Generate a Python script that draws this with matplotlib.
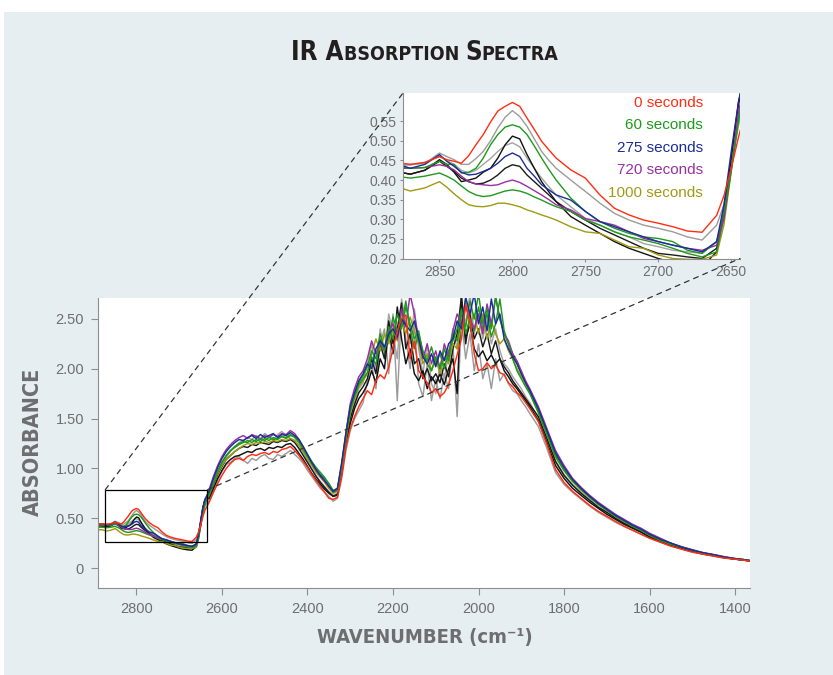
import numpy as np
import matplotlib
matplotlib.use("Agg")
import matplotlib.pyplot as plt
from matplotlib import font_manager
from matplotlib.patches import Rectangle, ConnectionPatch

# wavenumber sampling (cm-1), high to low
wn_edge = [2890, 2880, 2870, 2860, 2850, 2845, 2840, 2835, 2830, 2825, 2820, 2815, 2810, 2805, 2800,
           2795, 2790, 2785, 2780, 2775, 2770, 2760, 2750, 2740, 2730, 2720, 2710, 2700, 2690, 2680,
           2670, 2660, 2655, 2650, 2645, 2640]
wn_plateau = list(range(2630, 2300, -10))
wn_band = list(range(2300, 1870, -10))
wn_tail = [1860, 1840, 1820, 1800, 1780, 1760, 1740, 1720, 1700, 1680, 1660, 1640, 1620, 1600,
           1575, 1550, 1525, 1500, 1475, 1450, 1425, 1400, 1380, 1365]
wavenumber = np.array(wn_edge + wn_plateau + wn_band + wn_tail)

# absorbance, one list per spectrum
abs_0s = [0.440, 0.445, 0.440, 0.445, 0.460, 0.452, 0.448, 0.443, 0.462, 0.490, 0.516, 0.548, 0.576, 0.588,
          0.598, 0.588, 0.558, 0.529, 0.499, 0.477, 0.456, 0.426, 0.405, 0.362, 0.328, 0.311, 0.298, 0.290,
          0.281, 0.270, 0.267, 0.310, 0.360, 0.430, 0.510, 0.580,
          0.66, 0.76, 0.85, 0.93, 1.00, 1.05, 1.09, 1.10, 1.08, 1.12, 1.14, 1.13, 1.15, 1.16, 1.14, 1.17, 1.16,
          1.19, 1.20, 1.22, 1.18, 1.13, 1.07, 1.01, 0.94, 0.88, 0.82, 0.76, 0.70, 0.69, 0.71, 0.92, 1.22,
          1.40, 1.52, 1.62, 1.70, 1.78, 1.74, 1.88, 1.94, 1.90, 2.02, 2.20, 2.38, 2.50, 2.54, 2.10, 2.28, 1.98,
          1.92, 1.86, 1.76, 1.80, 1.72, 1.76, 1.84, 1.98, 2.14, 2.30, 2.64, 2.48, 2.15, 1.98, 2.00, 2.06, 2.00,
          2.04, 1.96, 1.94, 1.86, 1.82, 1.76, 1.72, 1.66, 1.60,
          1.47, 1.24, 0.99, 0.86, 0.77, 0.70, 0.63, 0.57, 0.52, 0.47, 0.42, 0.38, 0.34, 0.30, 0.26, 0.22,
          0.19, 0.16, 0.14, 0.12, 0.10, 0.09, 0.08, 0.07]
abs_gray_a = [0.440, 0.440, 0.440, 0.442, 0.469, 0.460, 0.452, 0.440, 0.440, 0.455, 0.473, 0.500, 0.533, 0.560,
              0.577, 0.562, 0.537, 0.505, 0.473, 0.450, 0.430, 0.400, 0.371, 0.341, 0.315, 0.298, 0.285, 0.277,
              0.268, 0.255, 0.247, 0.285, 0.337, 0.430, 0.540, 0.620,
              0.68, 0.78, 0.88, 0.97, 1.04, 1.06, 1.10, 1.12, 1.08, 1.05, 1.10, 1.08, 1.12, 1.14, 1.10, 1.09, 1.14,
              1.12, 1.15, 1.18, 1.14, 1.10, 1.05, 0.98, 0.92, 0.86, 0.80, 0.76, 0.72, 0.67, 0.70, 0.90, 1.18,
              1.38, 1.50, 1.58, 1.66, 1.88, 2.05, 1.80, 2.25, 2.40, 1.95, 2.55, 1.68, 2.62, 2.30, 2.00, 2.45, 1.85,
              1.72, 2.05, 1.68, 1.90, 1.70, 1.95, 1.80, 2.25, 1.52, 2.50, 2.10, 2.35, 1.98, 2.25, 1.90, 2.05, 1.80,
              2.10, 1.88, 1.95, 1.85, 1.78, 1.75, 1.68, 1.62, 1.55,
              1.42, 1.20, 0.96, 0.84, 0.76, 0.69, 0.62, 0.56, 0.51, 0.46, 0.42, 0.38, 0.34, 0.30, 0.26, 0.22,
              0.19, 0.16, 0.14, 0.12, 0.10, 0.09, 0.08, 0.07]
abs_60s = [0.436, 0.435, 0.430, 0.432, 0.448, 0.440, 0.440, 0.418, 0.420, 0.430, 0.456, 0.490, 0.516, 0.535,
           0.541, 0.535, 0.516, 0.487, 0.456, 0.427, 0.400, 0.354, 0.320, 0.294, 0.277, 0.264, 0.255, 0.251,
           0.243, 0.221, 0.213, 0.243, 0.320, 0.430, 0.550, 0.640,
           0.74, 0.86, 0.97, 1.06, 1.13, 1.18, 1.22, 1.25, 1.27, 1.26, 1.29, 1.27, 1.30, 1.28, 1.31, 1.29, 1.30,
           1.32, 1.31, 1.34, 1.31, 1.26, 1.19, 1.12, 1.05, 0.99, 0.94, 0.90, 0.85, 0.78, 0.80, 1.02, 1.32,
           1.58, 1.72, 1.84, 1.90, 1.96, 2.12, 2.04, 2.30, 2.18, 2.42, 2.30, 2.55, 2.40, 2.62, 2.45, 2.30, 2.38,
           2.15, 2.05, 1.98, 2.12, 2.00, 2.20, 2.08, 2.35, 2.28, 2.55, 2.42, 2.68, 2.50, 2.75, 2.45, 2.60, 2.40,
           2.72, 2.50, 2.35, 2.25, 2.10, 1.98, 1.90, 1.82, 1.75,
           1.56, 1.34, 1.12, 0.98, 0.87, 0.79, 0.71, 0.64, 0.58, 0.52, 0.47, 0.42, 0.38, 0.33, 0.28, 0.24,
           0.21, 0.18, 0.15, 0.13, 0.11, 0.095, 0.085, 0.075]
abs_black_a = [0.425, 0.422, 0.415, 0.425, 0.452, 0.440, 0.420, 0.396, 0.400, 0.405, 0.420, 0.430, 0.456, 0.490,
               0.512, 0.505, 0.465, 0.430, 0.396, 0.370, 0.345, 0.307, 0.285, 0.264, 0.243, 0.226, 0.213, 0.200,
               0.190, 0.183, 0.179, 0.217, 0.320, 0.456, 0.593, 0.680,
               0.70, 0.80, 0.90, 0.98, 1.05, 1.09, 1.12, 1.13, 1.15, 1.17, 1.16, 1.19, 1.20, 1.18, 1.21, 1.20, 1.22,
               1.21, 1.24, 1.25, 1.21, 1.15, 1.09, 1.02, 0.95, 0.89, 0.84, 0.79, 0.75, 0.72, 0.74, 0.95, 1.25,
               1.45, 1.60, 1.70, 1.76, 1.84, 1.98, 1.86, 2.10, 2.00, 2.40, 2.15, 2.62, 2.30, 2.05, 2.20, 1.95, 1.88,
               1.98, 1.80, 1.92, 1.85, 1.95, 1.84, 2.00, 2.10, 1.75, 2.72, 2.30, 2.45, 2.20, 2.12, 2.18, 2.08, 2.14,
               2.05, 2.10, 1.98, 1.92, 1.85, 1.80, 1.74, 1.68, 1.62,
               1.48, 1.26, 1.03, 0.90, 0.80, 0.73, 0.66, 0.60, 0.54, 0.49, 0.44, 0.40, 0.36, 0.31, 0.27, 0.23,
               0.20, 0.17, 0.14, 0.125, 0.105, 0.09, 0.08, 0.072]
abs_gray_b = [0.440, 0.440, 0.438, 0.445, 0.460, 0.450, 0.440, 0.425, 0.418, 0.425, 0.440, 0.455, 0.473, 0.488,
              0.495, 0.485, 0.456, 0.430, 0.405, 0.383, 0.362, 0.332, 0.302, 0.285, 0.268, 0.255, 0.238, 0.230,
              0.221, 0.217, 0.213, 0.243, 0.313, 0.440, 0.560, 0.650,
              0.72, 0.84, 0.95, 1.04, 1.11, 1.17, 1.22, 1.26, 1.28, 1.31, 1.29, 1.33, 1.30, 1.35, 1.32, 1.29, 1.34,
              1.37, 1.33, 1.30, 1.28, 1.23, 1.16, 1.08, 1.00, 0.93, 0.87, 0.82, 0.77, 0.73, 0.75, 0.97, 1.28,
              1.52, 1.66, 1.80, 1.86, 2.05, 2.25, 1.98, 2.40, 2.15, 2.55, 2.35, 2.10, 2.70, 2.45, 2.25, 2.60, 2.20,
              1.95, 2.25, 1.85, 1.75, 2.05, 1.90, 2.15, 2.40, 2.20, 2.65, 2.45, 2.75, 2.35, 2.55, 2.30, 2.50, 2.25,
              2.40, 2.18, 2.05, 2.00, 1.92, 1.86, 1.80, 1.72, 1.66,
              1.50, 1.30, 1.08, 0.94, 0.84, 0.76, 0.69, 0.62, 0.56, 0.51, 0.46, 0.41, 0.37, 0.32, 0.28, 0.24,
              0.20, 0.17, 0.15, 0.13, 0.11, 0.09, 0.08, 0.073]
abs_275s = [0.440, 0.443, 0.430, 0.440, 0.465, 0.448, 0.435, 0.420, 0.413, 0.415, 0.422, 0.430, 0.443, 0.460,
            0.469, 0.460, 0.430, 0.410, 0.388, 0.375, 0.362, 0.349, 0.320, 0.294, 0.281, 0.268, 0.255, 0.243,
            0.234, 0.226, 0.217, 0.243, 0.337, 0.473, 0.600, 0.690,
            0.77, 0.90, 1.01, 1.10, 1.17, 1.22, 1.26, 1.29, 1.28, 1.31, 1.33, 1.30, 1.34, 1.31, 1.33, 1.35, 1.31,
            1.34, 1.33, 1.36, 1.33, 1.29, 1.22, 1.14, 1.06, 0.99, 0.93, 0.88, 0.82, 0.77, 0.80, 1.06, 1.36,
            1.62, 1.76, 1.88, 1.95, 2.05, 2.00, 2.20, 2.28, 2.22, 2.35, 2.40, 2.32, 2.50, 2.44, 2.38, 2.48, 2.30,
            2.12, 2.05, 2.15, 2.02, 2.18, 2.08, 2.25, 2.30, 2.48, 2.40, 2.72, 2.55, 2.75, 2.45, 2.62, 2.38, 2.70,
            2.45, 2.55, 2.30, 2.20, 2.12, 2.05, 1.95, 1.86, 1.78,
            1.60, 1.38, 1.16, 1.01, 0.89, 0.80, 0.72, 0.65, 0.59, 0.53, 0.48, 0.43, 0.39, 0.34, 0.29, 0.25,
            0.21, 0.18, 0.155, 0.135, 0.11, 0.095, 0.085, 0.075]
abs_black_b = [0.425, 0.422, 0.415, 0.425, 0.448, 0.435, 0.422, 0.405, 0.396, 0.390, 0.392, 0.400, 0.413, 0.430,
               0.439, 0.435, 0.413, 0.396, 0.379, 0.362, 0.345, 0.320, 0.298, 0.277, 0.260, 0.243, 0.226, 0.213,
               0.209, 0.204, 0.200, 0.226, 0.320, 0.456, 0.600, 0.680,
               0.73, 0.84, 0.94, 1.02, 1.09, 1.13, 1.17, 1.20, 1.22, 1.21, 1.24, 1.23, 1.26, 1.25, 1.24, 1.27, 1.26,
               1.28, 1.27, 1.29, 1.26, 1.20, 1.13, 1.06, 0.99, 0.92, 0.86, 0.81, 0.76, 0.72, 0.73, 0.96, 1.27,
               1.50, 1.64, 1.76, 1.82, 1.90, 2.10, 1.95, 2.25, 2.10, 2.48, 2.25, 2.40, 2.66, 2.20, 2.35, 2.05, 2.10,
               1.90, 2.00, 1.88, 1.95, 1.86, 2.05, 1.92, 2.20, 2.35, 2.72, 2.25, 2.55, 2.30, 2.40, 2.22, 2.35, 2.15,
               2.28, 2.10, 2.02, 1.96, 1.88, 1.82, 1.76, 1.70, 1.64,
               1.52, 1.30, 1.07, 0.93, 0.83, 0.75, 0.68, 0.61, 0.56, 0.50, 0.45, 0.41, 0.37, 0.32, 0.28, 0.24,
               0.20, 0.17, 0.145, 0.125, 0.105, 0.09, 0.08, 0.072]
abs_720s = [0.432, 0.430, 0.430, 0.432, 0.439, 0.435, 0.426, 0.410, 0.396, 0.390, 0.388, 0.386, 0.388, 0.395,
            0.400, 0.394, 0.384, 0.373, 0.362, 0.350, 0.337, 0.324, 0.302, 0.294, 0.285, 0.268, 0.251, 0.243,
            0.234, 0.226, 0.221, 0.234, 0.303, 0.430, 0.575, 0.660,
            0.79, 0.92, 1.03, 1.12, 1.19, 1.24, 1.28, 1.31, 1.33, 1.30, 1.34, 1.32, 1.29, 1.33, 1.31, 1.34, 1.32,
            1.35, 1.34, 1.38, 1.35, 1.29, 1.21, 1.13, 1.05, 0.98, 0.92, 0.87, 0.82, 0.77, 0.79, 1.04, 1.36,
            1.65, 1.80, 1.92, 1.98, 2.10, 2.28, 2.15, 2.25, 2.18, 2.38, 2.45, 2.30, 2.60, 2.42, 2.75, 2.55, 2.30,
            2.10, 2.25, 2.05, 2.18, 2.00, 2.25, 2.12, 2.38, 2.55, 2.45, 2.62, 2.50, 2.40, 2.55, 2.35, 2.65, 2.45,
            2.72, 2.50, 2.35, 2.28, 2.15, 2.08, 1.98, 1.88, 1.80,
            1.62, 1.40, 1.18, 1.03, 0.90, 0.81, 0.73, 0.66, 0.60, 0.54, 0.49, 0.44, 0.40, 0.35, 0.30, 0.25,
            0.215, 0.185, 0.155, 0.135, 0.115, 0.095, 0.085, 0.075]
abs_green_b = [0.410, 0.410, 0.405, 0.410, 0.418, 0.410, 0.400, 0.385, 0.371, 0.362, 0.358, 0.360, 0.366, 0.372,
               0.375, 0.372, 0.366, 0.357, 0.349, 0.340, 0.332, 0.320, 0.298, 0.285, 0.268, 0.255, 0.247, 0.238,
               0.226, 0.213, 0.204, 0.217, 0.303, 0.422, 0.560, 0.650,
               0.74, 0.86, 0.97, 1.06, 1.13, 1.18, 1.21, 1.24, 1.26, 1.28, 1.26, 1.29, 1.27, 1.30, 1.28, 1.31, 1.29,
               1.32, 1.30, 1.33, 1.32, 1.27, 1.21, 1.14, 1.07, 1.01, 0.96, 0.91, 0.84, 0.76, 0.78, 1.03, 1.34,
               1.60, 1.74, 1.86, 1.93, 2.02, 2.18, 2.10, 2.35, 2.20, 2.30, 2.52, 2.38, 2.45, 2.68, 2.40, 2.20, 2.35,
               2.18, 2.08, 2.22, 2.05, 2.15, 2.00, 2.18, 2.28, 2.40, 2.60, 2.35, 2.50, 2.38, 2.62, 2.40, 2.55, 2.32,
               2.45, 2.70, 2.38, 2.25, 2.15, 2.05, 1.96, 1.87, 1.78,
               1.58, 1.36, 1.14, 0.99, 0.88, 0.80, 0.72, 0.65, 0.59, 0.53, 0.48, 0.43, 0.39, 0.34, 0.29, 0.25,
               0.21, 0.18, 0.15, 0.13, 0.11, 0.095, 0.085, 0.075]
abs_1000s = [0.385, 0.384, 0.372, 0.380, 0.396, 0.382, 0.365, 0.350, 0.337, 0.333, 0.332, 0.335, 0.341, 0.341,
             0.337, 0.332, 0.324, 0.318, 0.311, 0.305, 0.298, 0.281, 0.268, 0.264, 0.247, 0.230, 0.226, 0.209,
             0.200, 0.198, 0.198, 0.209, 0.286, 0.422, 0.570, 0.660,
             0.73, 0.85, 0.95, 1.03, 1.09, 1.13, 1.17, 1.20, 1.23, 1.25, 1.24, 1.26, 1.25, 1.27, 1.26, 1.28, 1.27,
             1.29, 1.28, 1.30, 1.28, 1.23, 1.17, 1.10, 1.03, 0.96, 0.91, 0.86, 0.80, 0.75, 0.77, 1.00, 1.30,
             1.55, 1.70, 1.82, 1.88, 1.95, 2.15, 2.30, 2.18, 2.35, 2.25, 2.40, 2.28, 2.48, 2.35, 2.52, 2.38, 2.25,
             2.05, 2.15, 1.98, 2.10, 1.95, 2.12, 2.05, 2.25, 2.20, 2.45, 2.70, 2.42, 2.55, 2.35, 2.55, 2.30, 2.48,
             2.35, 2.25, 2.30, 2.18, 2.10, 2.00, 1.92, 1.84, 1.76,
             1.56, 1.34, 1.12, 0.98, 0.87, 0.78, 0.71, 0.64, 0.58, 0.52, 0.47, 0.42, 0.38, 0.33, 0.28, 0.24,
             0.21, 0.18, 0.15, 0.13, 0.11, 0.093, 0.083, 0.074]

# drawing order (back to front) and colours
spectra = [abs_gray_a, abs_gray_b, abs_black_a, abs_black_b, abs_1000s,
           abs_green_b, abs_720s, abs_60s, abs_275s, abs_0s]
colors = ["#9b9b9b", "#a3a3a3", "#111111", "#1a1a1a", "#a09a12",
          "#1f9a1f", "#9a2fa2", "#1c9a1c", "#1b2c98", "#ff2d12"]

legend_labels = ["0 seconds", "60 seconds", "275 seconds", "720 seconds", "1000 seconds"]
legend_colors = ["#ff2d12", "#1c9a1c", "#1b2c98", "#9a2fa2", "#a09a12"]

main_xticks = [2800, 2600, 2400, 2200, 2000, 1800, 1600, 1400]
main_yticks = [0, 0.5, 1.0, 1.5, 2.0, 2.5]
inset_xticks = [2850, 2800, 2750, 2700, 2650]
inset_yticks = [0.20, 0.25, 0.30, 0.35, 0.40, 0.45, 0.50, 0.55]
zoom_box = (2873, 2634, 0.262, 0.786)

# a narrow bold face for the headings, if one is installed
fonts = font_manager.fontManager.ttflist
names = {f.name for f in fonts}
if "Liberation Sans Narrow" in names:
    head_kw = dict(family=["Liberation Sans Narrow", "DejaVu Sans"])
    shrink = 1.0
elif any(f.name == "DejaVu Sans" and f.stretch == "condensed" for f in fonts):
    head_kw = dict(family=["DejaVu Sans"], fontstretch="condensed")
    shrink = 1.0
else:
    head_kw = dict(family=["Liberation Sans", "DejaVu Sans"])
    shrink = 0.92
plt.rcParams["font.family"] = ["Liberation Sans", "DejaVu Sans"]

W, H = 833, 675
fig = plt.figure(figsize=(W / 100, H / 100), dpi=100, facecolor="white")
# light panel behind everything
fig.add_artist(Rectangle((4 / W, 0), 1, (H - 12) / H, transform=fig.transFigure,
                         facecolor="#e7eef2", edgecolor="none", zorder=-5))

tick_gray = "#6d6e71"
spine_gray = "#8d8d8d"

# main axes
ax = fig.add_axes([98 / W, (H - 588) / H, (750 - 98) / W, (588 - 298) / H])
for y, c in zip(spectra, colors):
    ax.plot(wavenumber, y, color=c, lw=1.05)
ax.set_xlim(2890, 1365)
ax.set_ylim(-0.2, 2.71)
ax.set_xticks(main_xticks)
ax.set_yticks(main_yticks)
ax.set_yticklabels(["0" if v == 0 else f"{v:.2f}" for v in main_yticks])
for s in ["top", "right"]:
    ax.spines[s].set_visible(False)
for s in ["left", "bottom"]:
    ax.spines[s].set_color(spine_gray)
ax.tick_params(colors=spine_gray, labelcolor=tick_gray, labelsize=10.5, length=5, pad=5)
x0, x1, y0, y1 = zoom_box
ax.add_patch(Rectangle((x0, y0), x1 - x0, y1 - y0, fill=False, ec="black", lw=0.9, zorder=5))

# inset axes
axin = fig.add_axes([403 / W, (H - 258.5) / H, (740 - 403) / W, (258.5 - 93) / H])
for y, c in zip(spectra, colors):
    axin.plot(wavenumber, y, color=c, lw=1.0)
axin.set_xlim(2875, 2644)
axin.set_ylim(0.2, 0.622)
axin.set_xticks(inset_xticks)
axin.set_yticks(inset_yticks)
axin.set_yticklabels([f"{v:.2f}" for v in inset_yticks])
for s in ["top", "right"]:
    axin.spines[s].set_visible(False)
for s in ["left", "bottom"]:
    axin.spines[s].set_color(spine_gray)
axin.tick_params(colors=spine_gray, labelcolor=tick_gray, labelsize=10, length=2.5, pad=2)
for i, (lab, c) in enumerate(zip(legend_labels, legend_colors)):
    axin.text(0.89, 0.94 - i * 0.136, lab, color=c, fontsize=11, ha="right", va="center",
              transform=axin.transAxes)

# dashed connectors
for xyA, xyB in [((x0, y1), (0, 1)), ((x1, y1), (1, 0))]:
    con = ConnectionPatch(xyA=xyA, coordsA=ax.transData, xyB=xyB, coordsB=axin.transAxes,
                          color="#333333", lw=0.9, linestyle=(0, (4, 4)), zorder=6)
    fig.add_artist(con)

# axis titles
lab_kw = dict(color=tick_gray, fontweight="bold", **head_kw)
fig.text(33 / W, 1 - 442 / H, "ABSORBANCE", rotation=90, ha="center", va="center",
         fontsize=15.5 * shrink, **lab_kw)
fig.text(425 / W, 1 - 637 / H, "WAVENUMBER (cm\u207b\u00b9)", ha="center", va="center",
         fontsize=14.5 * shrink, **lab_kw)

# small-caps title
pieces = [("IR A", 18.5 * shrink), ("BSORPTION ", 14 * shrink), ("S", 18.5 * shrink), ("PECTRA", 14 * shrink)]
renderer = fig.canvas.get_renderer()
texts = []
for txt, size in pieces:
    t = fig.text(0, 0, txt, fontsize=size, fontweight="bold", color="#231f20", va="baseline", **head_kw)
    texts.append(t)
widths = [t.get_window_extent(renderer).width for t in texts]
x = 425 - sum(widths) / 2
base = 1 - 60 / H
for t, w in zip(texts, widths):
    t.set_position((x / W, base))
    x += w

fig.savefig("out.png", dpi=100, facecolor=fig.get_facecolor())
